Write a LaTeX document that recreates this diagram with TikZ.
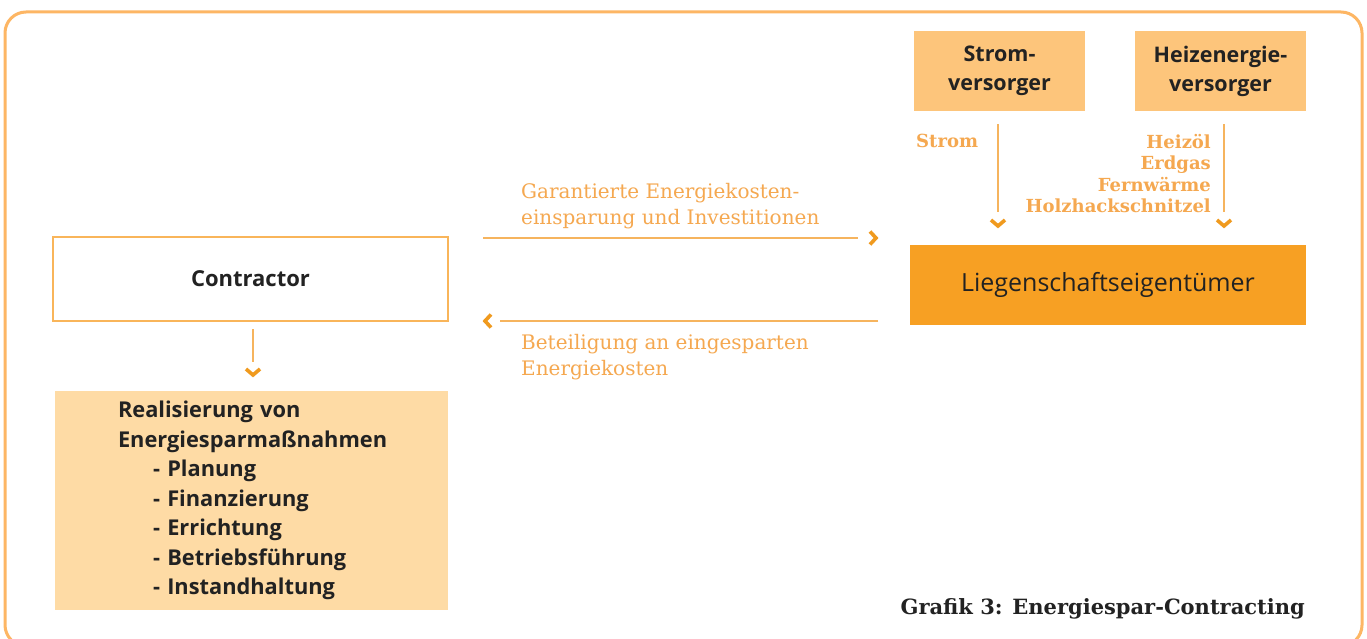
\documentclass[tikz,border=0pt]{standalone}
\usepackage{fontspec}
\setsansfont{Open Sans}
\newfontfamily\labserif{DejaVu Serif}
\begin{document}
\begin{tikzpicture}[x=1pt,y=-1pt,
  framest/.style={draw=frameC,line width=3pt,rounded corners=21pt},
  supbox/.style={fill=boxA,minimum width=171pt,minimum height=80pt,inner sep=0pt,align=center,
    text=darkT,font=\sffamily\bfseries\fontsize{21.5}{29}\selectfont},
  ownbox/.style={fill=boxB,minimum width=396pt,minimum height=80pt,inner sep=0pt,
    text=darkT,font=\sffamily\fontsize{25}{28}\selectfont},
  conbox/.style={draw=conC,line width=2pt,fill=white,minimum width=395pt,minimum height=84pt,inner sep=0pt,
    text=darkT,font=\sffamily\bfseries\fontsize{22}{26}\selectfont},
  realbox/.style={fill=boxC,minimum width=393pt,minimum height=219pt,inner xsep=63pt,inner ysep=0pt,
    text width=267pt,align=left,text=darkT,font=\sffamily\bfseries\fontsize{21.8}{29.5}\selectfont},
  conn/.style={draw=lineC,line width=2pt},
  chevst/.style={draw=chevC,line width=3.6pt,line join=miter},
  lab/.style={inner sep=0pt,text=labC,font=\labserif\fontsize{20}{26}\selectfont,align=left},
  labb/.style={inner sep=0pt,text=labC,font=\labserif\bfseries\fontsize{18}{21.5}\selectfont},
  chevR/.pic={\path[chevst] (-3,-6.5) -- (3,0) -- (-3,6.5);},
  chevL/.pic={\path[chevst] (3,-6.5) -- (-3,0) -- (3,6.5);},
  chevD/.pic={\path[chevst] (-7,-3) -- (0,3) -- (7,-3);}
]
\definecolor{frameC}{HTML}{FDB664}
\definecolor{boxA}{HTML}{FDC57B}
\definecolor{boxB}{HTML}{F7A023}
\definecolor{boxC}{HTML}{FEDBA5}
\definecolor{conC}{HTML}{F9B55A}
\definecolor{lineC}{HTML}{F6B45E}
\definecolor{chevC}{HTML}{F09A1E}
\definecolor{labC}{HTML}{F5A850}
\definecolor{darkT}{HTML}{222222}
\useasboundingbox (0,0) rectangle (1367,639);
\fill[white] (0,0) rectangle (1367,639);
\draw[framest] (5,12) rectangle (1362,646);

\node[supbox] (strom) at (999.5,71) {Strom-\\versorger};
\node[supbox] (heiz) at (1220.5,71) {Heizenergie-\\versorger};
\node[ownbox] (lieg) at (1108,285) {Liegenschaftseigentümer};
\node[conbox] (contr) at (250.5,279) {Contractor};
\node[realbox] (real) at (251.5,500.5) {Realisierung von\\Energiesparmaßnahmen\\
\hspace*{35pt}- Planung\\\hspace*{35pt}- Finanzierung\\\hspace*{35pt}- Errichtung\\
\hspace*{35pt}- Betriebsführung\\\hspace*{35pt}- Instandhaltung};

% vertical connectors
\coordinate (stromEnd) at (998,212);
\coordinate (heizEnd) at (1224,212);
\coordinate (contrEnd) at (253,362);
\draw[conn] (strom.south -| stromEnd) ++(0,13) -- (stromEnd);
\draw[conn] (heiz.south -| heizEnd) ++(0,13) -- (heizEnd);
\draw[conn] (contr.south -| contrEnd) ++(0,7) -- (contrEnd);
\pic at (998,223) {chevD};
\pic at (1224,223) {chevD};
\pic at (253,372) {chevD};

% horizontal connectors
\coordinate (rStart) at (483,238);
\coordinate (rEnd) at (858,238);
\coordinate (lStart) at (878,321);
\coordinate (lEnd) at (500,321);
\draw[conn] (rStart) -- (rEnd);
\draw[conn] (lStart) -- (lEnd);
\pic at (873,238) {chevR};
\pic at (488,321) {chevL};

% labels
\node[labb,anchor=west] (lstrom) at (916,141) {Strom};
\node[labb,anchor=north east,align=right] (lheiz) at (1211,134) {Heizöl\\Erdgas\\Fernwärme\\Holzhackschnitzel};
\node[lab,anchor=north west] (lgar) at (521,183) {Garantierte Energiekosten-\\einsparung und Investitionen};
\node[lab,anchor=north west] (lbet) at (521,334) {Beteiligung an eingesparten\\Energiekosten};
\node[inner sep=0pt,anchor=east,text=darkT,font=\labserif\bfseries\fontsize{21}{24}\selectfont] (title) at (1305,609) {Grafik 3: Energiespar-Contracting};
\end{tikzpicture}
\end{document}
